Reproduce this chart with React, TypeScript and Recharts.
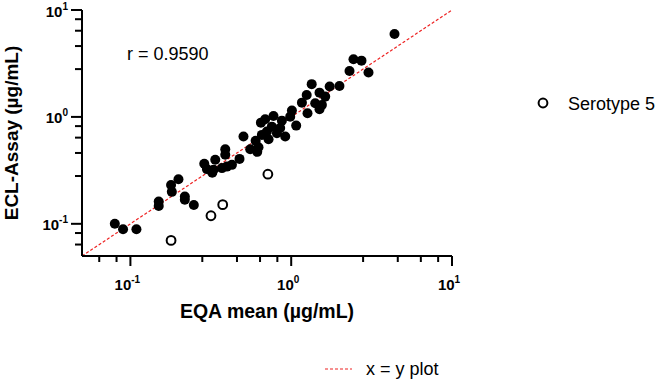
import { ScatterChart, Scatter, XAxis, YAxis, ReferenceLine } from "recharts";

// EQA mean (x) vs ECL-Assay (y), µg/mL
const filledX = [
  0.080, 0.090, 0.109, 0.150, 0.150, 0.179, 0.199, 0.181, 0.218, 0.218, 0.248,
  0.288, 0.299, 0.337, 0.329, 0.389, 0.389, 0.398, 0.371, 0.428, 0.477, 0.505,
  0.556, 0.626, 0.648, 0.689, 0.657, 0.723, 0.776, 0.758, 0.815, 0.875, 0.918,
  0.986, 1.074, 0.706, 0.601, 0.854, 0.323, 0.615,
  1.166, 1.248, 1.341, 1.410, 1.500, 1.552, 1.500, 1.627, 1.263, 1.735, 1.996,
  2.305, 2.440, 2.736, 3.025, 4.390, 1.010,
];
const filledY = [
  0.100, 0.089, 0.089, 0.162, 0.147, 0.231, 0.261, 0.199, 0.180, 0.168, 0.150,
  0.364, 0.325, 0.397, 0.320, 0.499, 0.442, 0.343, 0.332, 0.356, 0.405, 0.655,
  0.499, 0.521, 0.884, 0.952, 0.679, 0.619, 1.020, 0.811, 0.704, 0.923, 0.655,
  1.006, 0.829, 0.729, 0.597, 0.789, 0.300, 0.471,
  1.360, 1.606, 2.025, 1.343, 1.687, 1.295, 1.180, 1.548, 1.083, 1.928, 1.949,
  2.690, 3.460, 3.360, 2.606, 5.970, 1.145,
];

// Serotype 5
const openX = [0.179, 0.317, 0.375, 0.716];
const openY = [0.070, 0.119, 0.151, 0.291];

const majorTicks = [0.1, 1, 10];
const minorTicks = [0.064, 0.082, 0.28, 0.46, 0.64, 0.82, 2.8, 4.6, 6.4, 8.2];
const tickExp: Record<string, string> = { "0.1": "-1", "1": "0", "10": "1" };
const domain: [number, number] = [0.05, 10];

const filled = filledX.map((x, i) => ({ x, y: filledY[i] }));
const open = openX.map((x, i) => ({ x, y: openY[i] }));
const allTicks = [...majorTicks, ...minorTicks].sort((a, b) => a - b);

const FONT = "'Liberation Sans', Arial, sans-serif";

const isMajor = (v: number) => majorTicks.some((m) => Math.abs(m - v) < 1e-9);

function XTick(props: any) {
  const x = Number(props.x);
  const y = Number(props.y);
  const v = Number(props.payload.value);
  const major = isMajor(v);
  return (
    <g>
      <rect x={x - 1} y={y} width={2} height={major ? 10 : 6} fill="#000" />
      {major && (
        <text x={x - 3} y={y + 34} textAnchor="middle" fontFamily={FONT} fontWeight="bold" fontSize={15} fill="#000">
          10<tspan fontSize={10} dy={-7}>{tickExp[String(v)]}</tspan>
        </text>
      )}
    </g>
  );
}

function YTick(props: any) {
  const x = Number(props.x);
  const y = Number(props.y);
  const v = Number(props.payload.value);
  const major = isMajor(v);
  const len = major ? 11 : 7;
  return (
    <g>
      <rect x={x - len} y={y - 1} width={len} height={2} fill="#000" />
      {major && (
        <text x={x - 14} y={y + 6.5} textAnchor="end" fontFamily={FONT} fontWeight="bold" fontSize={15} fill="#000">
          10<tspan fontSize={10} dy={-7}>{tickExp[String(v)]}</tspan>
        </text>
      )}
    </g>
  );
}

const dot = (p: any) => <circle cx={p.cx} cy={p.cy} r={5} fill="#000" />;
const ring = (p: any) => <circle cx={p.cx} cy={p.cy} r={4.4} fill="#fff" stroke="#000" strokeWidth={2} />;

export default function App() {
  return (
    <div style={{ position: "absolute", left: 0, top: 0, width: 662, height: 381, background: "#fff" }}>
      <ScatterChart width={662} height={381} margin={{ top: 10, right: 210, bottom: 95, left: 22 }}>
        <XAxis
          dataKey="x"
          type="number"
          scale="log"
          domain={domain}
          ticks={allTicks}
          interval={0}
          tickLine={false}
          tickSize={0}
          tickMargin={0}
          tick={(p: any) => <XTick {...p} />}
          height={30}
          axisLine={{ stroke: "#000", strokeWidth: 2 }}
          allowDataOverflow
        />
        <YAxis
          dataKey="y"
          type="number"
          scale="log"
          domain={domain}
          ticks={allTicks}
          interval={0}
          tickLine={false}
          tickSize={0}
          tickMargin={0}
          tick={(p: any) => <YTick {...p} />}
          width={60}
          axisLine={{ stroke: "#000", strokeWidth: 2 }}
          allowDataOverflow
        />
        <Scatter data={filled} shape={dot} isAnimationActive={false} />
        <Scatter data={open} shape={ring} isAnimationActive={false} />
        <ReferenceLine
          segment={[{ x: 0.05, y: 0.05 }, { x: 10, y: 10 }]}
          stroke="#ee2222"
          strokeWidth={1.2}
          strokeDasharray="3 2"
          ifOverflow="visible"
        />
      </ScatterChart>
      <svg width={662} height={381} style={{ position: "absolute", left: 0, top: 0, pointerEvents: "none" }}>
        <text x={127} y={59.5} fontFamily={FONT} fontSize={18} fill="#000">r = 0.9590</text>
        <text x={267} y={318} textAnchor="middle" fontFamily={FONT} fontWeight="bold" fontSize={19.5} fill="#000">
          EQA mean (µg/mL)
        </text>
        <text x={18} y={133} transform="rotate(-90, 18, 133)" textAnchor="middle" fontFamily={FONT} fontWeight="bold" fontSize={19} fill="#000">
          ECL-Assay (µg/mL)
        </text>
        <circle cx={543} cy={103} r={4.4} fill="#fff" stroke="#000" strokeWidth={2} />
        <text x={568} y={109.5} fontFamily={FONT} fontSize={18} fill="#000">Serotype 5</text>
        <line x1={325} x2={352} y1={369} y2={369} stroke="#ee2222" strokeWidth={1.2} strokeDasharray="3 2" />
        <text x={366} y={375} fontFamily={FONT} fontSize={18} fill="#000">x = y plot</text>
      </svg>
    </div>
  );
}
